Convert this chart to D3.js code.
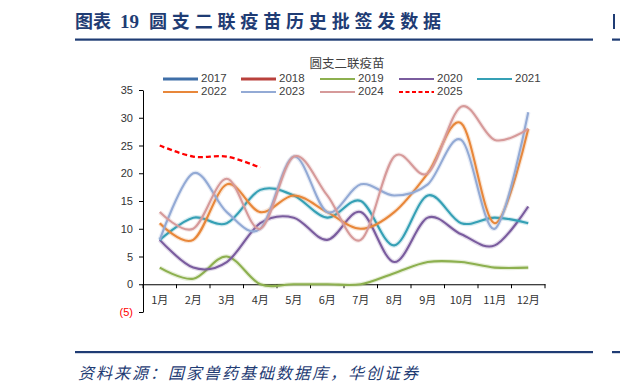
<!DOCTYPE html>
<html>
<head>
<meta charset="utf-8">
<script src="https://cdn.jsdelivr.net/npm/d3@7"></script>
<style>
  body { margin: 0; background: #fff; }
  svg { display: block; }
</style>
</head>
<body>
<svg id="chart" width="620" height="392"></svg>
<script>
// data
const months = ["1月", "2月", "3月", "4月", "5月", "6月", "7月", "8月", "9月", "10月", "11月", "12月"];
const years = ["2017", "2018", "2019", "2020", "2021", "2022", "2023", "2024", "2025"];
const yTicks = [-5, 0, 5, 10, 15, 20, 25, 30, 35];

const v2017 = [];
const v2018 = [];
const v2019 = [3, 1, 5, 0, 0, 0, 0, 2, 4, 4, 3, 3];
const v2020 = [8, 3, 4, 11, 12, 8, 13, 4, 12, 9, 7, 14];
const v2021 = [8, 12, 11, 17, 16, 12, 15, 7, 16, 11, 12, 11];
const v2022 = [11, 8, 18, 13, 16, 13, 10, 13, 20, 29, 11, 28];
const v2023 = [8, 20, 13, 10, 23, 13, 18, 16, 18, 26, 10, 31];
const v2024 = [13, 10, 19, 10, 23, 16, 8, 23, 20, 32, 26, 28];
const v2025 = [25, 23, 23, 21];

const seriesValues = [v2017, v2018, v2019, v2020, v2021, v2022, v2023, v2024, v2025];

const colors = ["#3f6fa8", "#b9413c", "#8db04f", "#7a5c9e", "#35a0b5", "#e8873a", "#93aad5", "#d69a9a", "#ff0000"];

const navy = "#1f3c74";
const svg = d3.select("#chart");

// --- header ---
svg.append("text").attr("x", 75).attr("y", 28)
    .style("font-family", "'Noto Sans CJK SC'").style("font-weight", "700")
    .style("font-size", "18px").attr("fill", navy)
    .text("图表");
svg.append("text").attr("x", 120).attr("y", 28)
    .style("font-family", "'Liberation Serif'").style("font-weight", "700")
    .style("font-size", "19px").attr("fill", navy)
    .text("19");
svg.append("text").attr("x", 149).attr("y", 28)
    .attr("textLength", 292).attr("lengthAdjust", "spacing")
    .style("font-family", "'Noto Sans CJK SC'").style("font-weight", "700")
    .style("font-size", "18px").attr("fill", navy)
    .text("圆支二联疫苗历史批签发数据");
svg.append("rect").attr("x", 75).attr("y", 38.5).attr("width", 518).attr("height", 2.2).attr("fill", navy);
// edge of the neighbouring panel
svg.append("rect").attr("x", 612).attr("y", 38.5).attr("width", 8).attr("height", 2.2).attr("fill", navy);
svg.append("rect").attr("x", 613).attr("y", 14).attr("width", 2).attr("height", 15).attr("fill", navy);

// --- footer ---
svg.append("rect").attr("x", 75).attr("y", 351).attr("width", 518).attr("height", 2.2).attr("fill", navy);
svg.append("rect").attr("x", 612).attr("y", 351).attr("width", 8).attr("height", 2.2).attr("fill", navy);
svg.append("text").attr("x", 78).attr("y", 379)
    .attr("textLength", 340).attr("lengthAdjust", "spacing")
    .style("font-family", "'Noto Sans CJK SC'").style("font-style", "italic")
    .style("font-size", "16px").attr("fill", navy)
    .text("资料来源：国家兽药基础数据库，华创证券");

// --- chart title + legend ---
const txtFont = "'Liberation Sans', 'Noto Sans CJK SC', sans-serif";
svg.append("text").attr("x", 347).attr("y", 65).attr("text-anchor", "middle")
    .attr("dominant-baseline", "middle")
    .style("font-family", "'Noto Sans CJK SC'").style("font-size", "12.5px").attr("fill", "#404040")
    .text("圆支二联疫苗");

const legX = [163, 241, 320, 399, 477];
const legY = [79, 92];
const legend = svg.append("g");
years.forEach((yr, i) => {
    const lx = legX[i % 5], ly = legY[Math.floor(i / 5)];
    legend.append("line")
        .attr("x1", lx).attr("x2", lx + 35).attr("y1", ly).attr("y2", ly)
        .attr("stroke", colors[i])
        .attr("stroke-width", i < 2 ? 3.2 : 2.2)
        .attr("stroke-dasharray", yr === "2025" ? "4,2.5" : null);
    legend.append("text").attr("x", lx + 38).attr("y", ly).attr("dominant-baseline", "middle")
        .style("font-family", txtFont).style("font-size", "11.5px").attr("fill", "#404040")
        .text(yr);
});

// --- scales ---
const x = d3.scaleBand().domain(months).range([143, 545]);
const y = d3.scaleLinear().domain([-5, 35]).range([312, 90]);

// y axis
const yAxis = svg.append("g").attr("transform", "translate(143,0)")
    .call(d3.axisLeft(y).tickValues(yTicks).tickSize(4).tickSizeOuter(0)
        .tickFormat(d => d < 0 ? `(${-d})` : d));
yAxis.select(".domain").attr("stroke", "#000");
yAxis.selectAll(".tick line").attr("stroke", "#000");
yAxis.selectAll(".tick text")
    .attr("x", -10)
    .style("font-family", txtFont).style("font-size", "11px")
    .attr("fill", d => d < 0 ? "#ff0000" : "#333");

// x axis on zero line
const xAxis = svg.append("g").attr("transform", `translate(0,${y(0)})`)
    .call(d3.axisBottom(x).tickSize(0).tickPadding(12));
xAxis.select(".domain").attr("stroke", "#000");
xAxis.selectAll(".tick text")
    .style("font-family", "'Noto Sans CJK SC'").style("font-size", "11px").attr("fill", "#333");
xAxis.selectAll(".cat-tick")
    .data(d3.range(months.length + 1))
    .enter().append("line").attr("class", "cat-tick")
    .attr("x1", i => x.range()[0] + i * x.step()).attr("x2", i => x.range()[0] + i * x.step())
    .attr("y1", 0).attr("y2", 4).attr("stroke", "#000");

// --- lines ---
const line = d3.line()
    .x((d, i) => x(months[i]) + x.bandwidth() / 2)
    .y(d => y(d))
    .curve(d3.curveCardinal.tension(0));

const plot = svg.append("g");
seriesValues.forEach((vals, i) => {
    if (vals.length < 2) return;
    if (years[i] !== "2025") {
        plot.append("path").attr("d", line(vals))
            .attr("fill", "none").attr("stroke", colors[i])
            .attr("stroke-width", 4.5).attr("stroke-opacity", 0.22);
    }
    plot.append("path").attr("d", line(vals))
        .attr("fill", "none").attr("stroke", colors[i])
        .attr("stroke-width", years[i] === "2025" ? 2.3 : 2.1)
        .attr("stroke-dasharray", years[i] === "2025" ? "5,3" : null);
});
</script>
</body>
</html>
